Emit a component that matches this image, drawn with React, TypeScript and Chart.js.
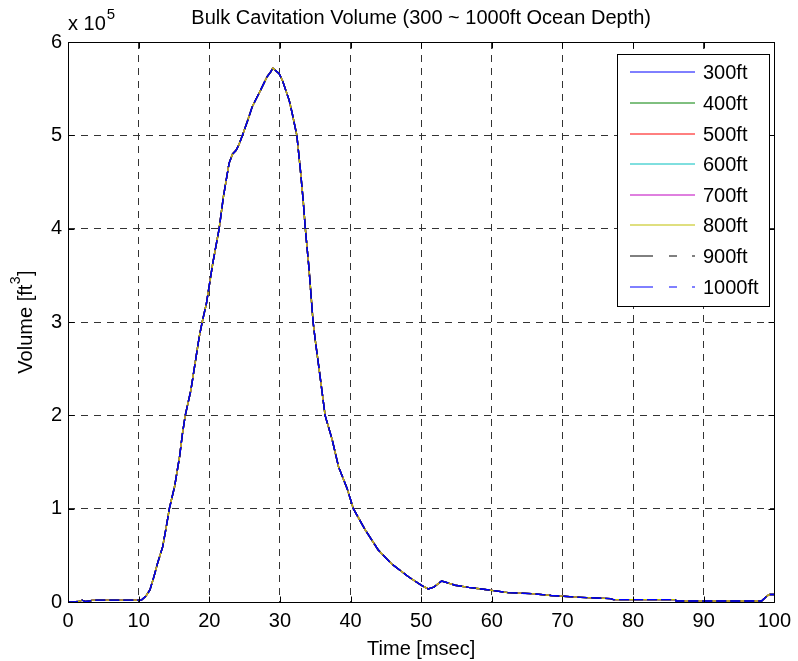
import React, { useEffect, useRef } from "react";
import { Chart, registerables } from "chart.js";

Chart.register(...registerables);

// ---- data (time in msec, volume in units of 1e5 ft^3) ----
const timeMs = [
  0, 0.5, 1.5, 2, 2.5, 3, 3.5, 5, 7, 9, 10, 10.4, 11, 11.6, 12.2, 12.7, 13.4, 13.9,
  14.35, 15.1, 15.8, 16.2, 16.6, 17.4, 18.1, 18.6, 19.0, 19.6, 20.5, 21.4, 22.0,
  22.8, 23.3, 23.8, 24.2, 24.7, 25.4, 26.1, 26.7, 27.3, 28.2, 28.7, 29.0, 29.3,
  29.9, 30.4, 30.8, 31.3, 31.7, 32.4, 32.9, 33.3, 33.6, 34.1, 34.7, 35.0, 35.7,
  36.4, 37.4, 38.3, 39.5, 40.4, 42.1, 43.9, 45.8, 48.2, 50.0, 51.0, 51.8, 52.9,
  54.0, 54.8, 56.7, 58.5, 60.0, 62.3, 65.6, 68.4, 72.6, 76.8, 77.2, 80, 86, 86.1,
  98.2, 98.9, 99.3, 100,
];
const volumeE5 = [
  0, 0, 0.005, 0.02, 0.005, 0.01, 0.02, 0.02, 0.02, 0.02, 0.02, 0.02, 0.06, 0.13,
  0.28, 0.42, 0.59, 0.8, 1.0, 1.24, 1.56, 1.8, 2.0, 2.27, 2.61, 2.85, 3.0, 3.2,
  3.63, 4.0, 4.34, 4.7, 4.8, 4.84, 4.9, 5.0, 5.15, 5.31, 5.4, 5.49, 5.63, 5.68,
  5.72, 5.7, 5.66, 5.58, 5.49, 5.38, 5.25, 5.0, 4.63, 4.3, 4.0, 3.59, 3.0, 2.81,
  2.41, 2.0, 1.74, 1.45, 1.22, 1.0, 0.77, 0.56, 0.41, 0.27, 0.18, 0.14, 0.16,
  0.225, 0.2, 0.18, 0.157, 0.14, 0.125, 0.1, 0.09, 0.07, 0.05, 0.036, 0.025,
  0.025, 0.025, 0.01, 0.01, 0.06, 0.08, 0.08,
];
const depthLabels = ["300ft", "400ft", "500ft", "600ft", "700ft", "800ft", "900ft", "1000ft"];
const seriesColors = ["#0000ff", "#008000", "#ff0000", "#00bfbf", "#bf00bf", "#bfbf00", "#000000", "#0000ff"];
const seriesDashed = [false, false, false, false, false, false, true, true];
const xTicks = [0, 10, 20, 30, 40, 50, 60, 70, 80, 90, 100];
const yTicks = [0, 1, 2, 3, 4, 5, 6];

const titleText = "Bulk Cavitation Volume (300 ~ 1000ft Ocean Depth)";
const xTitle = "Time [msec]";
const yTitleMain = "Volume [ft";
const yTitleSup = "3";
const yTitleEnd = "]";
const expBase = "x 10";
const expSup = "5";

const FONT = "'Liberation Sans', Arial, Helvetica, sans-serif";

const matlabPlugin = {
  id: "matlabDecor",
  afterDatasetsDraw(chart: any) {
    const { ctx, chartArea } = chart;
    const { left, right, top, bottom } = chartArea;
    const xs = chart.scales.x;
    const ys = chart.scales.y;
    ctx.save();
    ctx.setLineDash([]);
    ctx.strokeStyle = "#000";
    ctx.lineWidth = 1;
    const L = Math.round(left) + 0.5;
    const R = Math.round(right) + 0.5;
    const T = Math.round(top) + 0.5;
    const B = Math.round(bottom) + 0.5;
    ctx.beginPath();
    ctx.rect(L, T, R - L, B - T);
    ctx.stroke();
    const tl = 6;
    ctx.beginPath();
    xTicks.forEach((v) => {
      const p = Math.round(xs.getPixelForValue(v)) + 0.5;
      ctx.moveTo(p, B);
      ctx.lineTo(p, B - tl);
      ctx.moveTo(p, T);
      ctx.lineTo(p, T + tl);
    });
    yTicks.forEach((v) => {
      const p = Math.round(ys.getPixelForValue(v)) + 0.5;
      ctx.moveTo(L, p);
      ctx.lineTo(L + tl, p);
      ctx.moveTo(R, p);
      ctx.lineTo(R - tl, p);
    });
    ctx.stroke();

    // legend
    const lx = 617, ly = 54, lw = 152, lh = 252;
    ctx.fillStyle = "#fff";
    ctx.fillRect(lx, ly, lw, lh);
    ctx.strokeStyle = "#000";
    ctx.strokeRect(lx + 0.5, ly + 0.5, lw, lh);
    ctx.font = `20px ${FONT}`;
    ctx.textAlign = "left";
    ctx.textBaseline = "alphabetic";
    depthLabels.forEach((lab, i) => {
      const cy = Math.round(72.3 + i * 30.6);
      ctx.strokeStyle = seriesColors[i];
      ctx.lineWidth = 1;
      ctx.setLineDash(seriesDashed[i] ? [23, 16, 8, 15] : []);
      ctx.beginPath();
      ctx.moveTo(630, cy);
      ctx.lineTo(695, cy);
      ctx.stroke();
      ctx.setLineDash([]);
      ctx.fillStyle = "#000";
      ctx.fillText(lab, 703, cy + 7);
    });

    // texts
    ctx.fillStyle = "#000";
    ctx.textAlign = "center";
    ctx.font = `20px ${FONT}`;
    const cx = (left + right) / 2;
    ctx.fillText(titleText, cx, 24);
    ctx.fillText(xTitle, cx, 655);

    ctx.textAlign = "left";
    ctx.fillText(expBase, left, 30);
    const w1 = ctx.measureText(expBase).width;
    ctx.font = `15px ${FONT}`;
    ctx.fillText(expSup, left + w1 + 1, 19);

    // y title rotated
    ctx.save();
    const cyMid = (top + bottom) / 2;
    ctx.translate(32, cyMid);
    ctx.rotate(-Math.PI / 2);
    ctx.font = `20px ${FONT}`;
    const wMain = ctx.measureText(yTitleMain).width;
    const wEnd = ctx.measureText(yTitleEnd).width;
    ctx.font = `14px ${FONT}`;
    const wSup = ctx.measureText(yTitleSup).width;
    const total = wMain + wSup + wEnd + 1;
    const x0 = -total / 2;
    ctx.textAlign = "left";
    ctx.font = `20px ${FONT}`;
    ctx.fillText(yTitleMain, x0, 0);
    ctx.font = `14px ${FONT}`;
    ctx.fillText(yTitleSup, x0 + wMain + 0.5, -12);
    ctx.font = `20px ${FONT}`;
    ctx.fillText(yTitleEnd, x0 + wMain + wSup + 1, 0);
    ctx.restore();

    ctx.restore();
  },
};

export default function App() {
  const ref = useRef<HTMLCanvasElement>(null);
  useEffect(() => {
    if (!ref.current) return;
    const datasets = depthLabels.map((label, i) => ({
      label,
      data: timeMs.map((t, k) => ({ x: t, y: volumeE5[k] })),
      borderColor: seriesColors[i],
      backgroundColor: seriesColors[i],
      borderWidth: 1.4,
      borderDash: seriesDashed[i] ? [10, 4] : [],
      pointRadius: 0,
      fill: false,
      tension: 0,
      order: depthLabels.length - 1 - i,
    }));
    const tickFont = { family: FONT, size: 20 };
    const chart = new Chart(ref.current, {
      type: "line",
      data: { datasets },
      plugins: [matlabPlugin],
      options: {
        responsive: false,
        animation: false,
        devicePixelRatio: 1,
        layout: { padding: { left: 0, right: 20, top: 42, bottom: 0 } },
        plugins: {
          legend: { display: false },
          tooltip: { enabled: false },
          title: { display: false },
        },
        scales: {
          x: {
            type: "linear",
            min: 0,
            max: 100,
            afterBuildTicks: (s: any) => {
              s.ticks = xTicks.map((v) => ({ value: v }));
            },
            afterFit: (s: any) => {
              s.height = 59;
            },
            ticks: {
              color: "#000",
              font: tickFont,
              padding: 7,
              maxRotation: 0,
              autoSkip: false,
            },
            grid: { color: "#333", lineWidth: 1, drawTicks: false },
            border: { display: false, dash: [7, 6] },
          },
          y: {
            type: "linear",
            min: 0,
            max: 6,
            afterBuildTicks: (s: any) => {
              s.ticks = yTicks.map((v) => ({ value: v }));
            },
            afterFit: (s: any) => {
              s.width = 68;
            },
            ticks: {
              color: "#000",
              font: tickFont,
              padding: 6,
              autoSkip: false,
            },
            grid: { color: "#333", lineWidth: 1, drawTicks: false },
            border: { display: false, dash: [7, 6] },
          },
        },
      } as any,
    });
    return () => chart.destroy();
  }, []);
  return (
    <div style={{ position: "absolute", left: 0, top: 0, width: 798, height: 661, background: "#fff" }}>
      <canvas ref={ref} width={798} height={661} style={{ display: "block" }} />
    </div>
  );
}
